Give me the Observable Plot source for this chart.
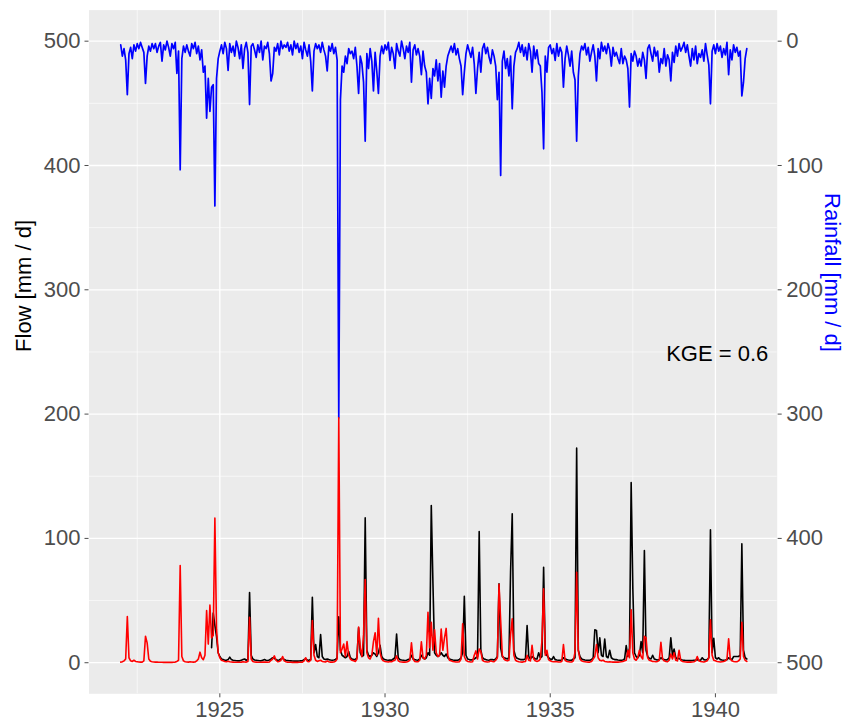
<!DOCTYPE html>
<html><head><meta charset="utf-8">
<script src="https://cdn.jsdelivr.net/npm/d3@7"></script>
<script src="https://cdn.jsdelivr.net/npm/@observablehq/plot@0.6"></script>
<style>body{margin:0;background:#fff;}</style>
</head><body><div id="chart"></div>
<script>
// Time axis: values are sampled 20 times per year starting at startYear
const startYear = 1922;
const stepsPerYear = 20;
const observedFirstYear = 1924;

// Rainfall [mm/d], one row per year 1922..1940
const rainfall = [
  [3,12,6,15,43,10,5,14,3,8,2,6,1,5,9,34,12,4,8,2],
  [6,2,9,4,1,16,3,7,0,5,12,2,6,1,26,8,103.5,14,4,9],
  [3,8,12,2,6,1,10,4,15,7,25,20,62,30,56.5,37,35,132.5,30,14],
  [8,3,10,1,6,23.6,2,9,4,12,0,5,14,3,22,6,1,9,51,4],
  [2,7,13,3,9,0,15,4,6,1,10,32,26,5,8,2,11,0,6,3],
  [5,1,8,3,11,0,6,2,9,4,14,1,7,12,3,16,40,8,2,6],
  [3,9,1,7,12,24,4,8,2,10,5,15,303,47,20,25,12,18,6,10],
  [8,14,5,20,42,12,18,33,80.4,10,22,6,16,40,9,24,42,12,4,10],
  [3,7,1,15.5,5,10,22,2,8,12,0,6,14,4,9,1,33,7,3,11],
  [6,12,27,8,20,25,50.4,30,46,22,28,15,32,18,45,24,37,20,12,8],
  [4,9,2,11,6,14,20,43,25,10,3,8,13,5,18,42,22,9,25,6],
  [2,10,5,13,18,7,12,20,47,25,108,16,8,22,14,28,12,54.4,20,9],
  [6,1,9,3,12,5,15,2,8,25,4,14,7,18,20,41,86.6,12,25,5],
  [3,10,6,15.5,2,12,5,9,37,14,4,11,20,8,25,31,80.4,28,10,4],
  [7,2,11,5,16,9,3,12,32,6,14,1,8,4,10,2,7,20,5,12],
  [9,14,18,6,18,12,15,22,53,10,16,8,12,20,14,20,9,15,30,6],
  [3,10,16,5,12,8,25,14,18,6,20,11,15,32,9,17,4,12,2,8],
  [5,1,9,3,12,20,6,15,4,18,10,13,7,16,2,11,19,50.4,8,3],
  [10,2,8,4,13,6,11,1,27,7,15,3,9,5,12,8,44,33,14,6]
];

// Observed flow [mm/d], one row per year 1924..1940 (null = no record)
const flowObserved = [
  [null,null,null,null,null,null,null,null,null,null,null,null,null,null,null,12,40,30,21,8],
  [5,3,2.5,2,2,2.5,4.5,2.5,2,1.8,1.6,1.5,1.5,2,2.5,3,2,2.5,56.5,6],
  [3,2.2,2,1.8,1.6,1.5,2,2.5,2,1.8,2.2,3,4,3.5,2.5,2,2.2,3,3.5,2.5],
  [2,1.8,1.6,1.5,1.4,1.3,1.3,1.3,1.4,1.5,1.6,2.5,3,2.2,2,2.5,52.7,8,14.6,5],
  [4,22.7,5,3,2.5,3,2.5,2.2,2,2.2,2.5,4,37,10,6,5,4,5,9,4],
  [3,2.5,2.5,4,28,8,5,6,116.5,10,6,5,6,8,7,5,8,14,5,3],
  [2.5,2.2,2,2.2,2,3,4,23,4,2.5,2.2,2,1.8,2,2.5,3,6,3,2.5,2.2],
  [2,3,6,4,3,4,8,6,126.5,64,8,6,5,6,8,6,5,7,4,3],
  [2.5,2.2,2,2,2,2.5,4,8,53.5,6,3,2.5,2.2,2.5,3,4,5,105.5,10,4],
  [3,2.5,2.2,2,2.5,2.5,2.2,3,5,63.5,12,5,4,3.5,3,4,73.4,119.8,10,5],
  [3.5,3,2.5,2.5,2.5,3,30,5,3,5,4,3,3,8,4,5,76.8,8,6,4],
  [3,2.5,5,2.5,2.2,2,2,2.2,4,3,2.5,2.2,2,2,3,4,172.6,10,5,3],
  [2.5,2.2,2,2,2,2.5,4,26.5,26,8,20,6,5,19,5,4,10,4,3,2.5],
  [2.5,2.2,2,2,2.2,3,13.8,5,12,145,60,8,5,4,6,17,8,90.3,10,5],
  [3.5,3,6,3,2.5,2.2,2.5,4,3,2.5,2.2,2.5,4,20,6,11,4,3,3.5,2.5],
  [2.2,2,1.8,1.8,1.7,1.7,1.8,2,2.2,2.5,2.2,2,4,2.5,2.2,2.5,4,107,8,19.6],
  [4,3,4,2.5,2.2,2,2.2,2.5,4,3,2.5,5,5,5,5,6,95.6,10,4,3]
];

// Simulated flow [mm/d], one row per year 1922..1940
const flowSimulated = [
  [0.5,0.8,1.5,3,37.2,4,1.5,1,2,1,0.8,0.6,0.5,0.5,1.5,21.3,16,3,1.2,0.8],
  [0.6,0.5,0.5,0.4,0.4,0.4,0.3,0.3,0.3,0.3,0.3,0.3,0.4,0.5,1,2,78.2,5,1.5,0.8],
  [0.6,0.5,0.8,0.6,0.5,0.6,1.5,3,8.5,4,2.5,6,42,15,46.3,20,22,116.3,27,8],
  [4,2,1.5,1,0.8,1.2,0.8,0.6,0.5,0.4,0.4,0.4,0.4,0.5,0.8,0.6,0.5,1,36.6,3],
  [1,0.6,0.5,0.4,0.4,0.4,0.5,0.6,0.5,0.4,0.6,2,3,5.5,2,0.8,1,2,5,1.5],
  [0.8,0.5,0.4,0.4,0.3,0.3,0.3,0.3,0.4,0.4,0.5,1.5,4,1,0.8,2,34,6,2,1],
  [1.5,2,1,0.8,0.6,1.5,0.8,0.5,0.5,0.6,1.2,3,197,8,11,15,5,17,6,3],
  [2,1.5,1,3,28.6,12,5,22.6,67,8,4,3,6,17,24,6,35.8,8,3,1.5],
  [1,0.8,0.6,1,0.8,1.5,2,5.5,1.5,0.8,0.6,0.5,0.5,0.6,1,2,16,3,1,0.8],
  [0.8,2,16.8,4,3,6,40.6,12,32.6,10,26.5,8,5,6,27,10,20,27.6,6,2],
  [1.5,1,0.8,0.6,0.6,0.8,3,31.3,5,2,1,0.8,0.6,0.8,6,9.5,3,11,9,2],
  [1,0.8,0.6,0.8,1.5,1,0.8,2,4,63,34,6,3,2,1.5,2,22.6,35.3,6,2],
  [1.2,0.8,0.6,0.5,0.8,1,6,2,1.5,14,3,1.5,1,1.5,3,17.8,59.4,6,10,2.5],
  [1.5,1,0.8,1,0.8,0.6,0.6,1,14.6,2,1,0.8,0.6,0.6,1.5,8.5,72.8,10,3,1.5],
  [1,0.8,0.6,0.5,0.5,1,3,5,14.6,4,2,1.5,2,1,0.8,0.6,0.8,0.6,0.5,0.5],
  [0.5,0.5,0.6,0.8,1,1.5,2,10,4,42.5,8,3,2,4,10,5,3,21.3,20,4],
  [2,1.5,1,1,0.8,1,2,16.5,3,1.5,1,0.8,2,7,3,8,2,1.5,10,2],
  [1,0.8,0.6,0.5,0.5,0.5,0.6,0.8,1.5,5,1.5,1,0.8,0.6,1,1.5,4,34.5,6,2],
  [1.5,1,0.8,0.6,0.8,1,1.5,3,19.2,3,1.5,1,0.8,0.8,1.5,3,32.6,5,2,1]
];

const xTicks = [1925, 1930, 1935, 1940];
const xMinorTicks = [1922.5, 1927.5, 1932.5, 1937.5];
const flowTicks = [0, 100, 200, 300, 400, 500];
const flowMinorTicks = [50, 150, 250, 350, 450];
const rainAxisMax = 500;
const kgeLabel = ["KGE = 0.6"];
const flowTitle = ["Flow [mm / d]"];
const rainTitle = ["Rainfall [mm / d]"];

function toSeries(rows, firstYear) {
  return rows.flat()
    .map((v, i) => ({t: firstYear + i / stepsPerYear, v}))
    .filter(d => d.v != null);
}
const rainSeries = toSeries(rainfall, startYear);
const obsSeries = toSeries(flowObserved, observedFirstYear);
const simSeries = toSeries(flowSimulated, startYear);

const font = "'Liberation Sans', Arial, Helvetica, sans-serif";
const axisColor = "#4D4D4D";

const chart = Plot.plot({
  width: 850,
  height: 722,
  marginLeft: 88.5,
  marginRight: 73.3,
  marginTop: 9.6,
  marginBottom: 28.7,
  style: {fontFamily: font, background: "white", overflow: "visible"},
  x: {domain: [1921.04, 1941.87], label: null},
  y: {domain: [-25, 525], label: null},
  marks: [
    Plot.frame({fill: "#EBEBEB", stroke: null}),
    Plot.gridX(xMinorTicks, {stroke: "white", strokeOpacity: 1, strokeWidth: 0.6}),
    Plot.gridY(flowMinorTicks, {stroke: "white", strokeOpacity: 1, strokeWidth: 0.6}),
    Plot.gridX(xTicks, {stroke: "white", strokeOpacity: 1, strokeWidth: 1.3}),
    Plot.gridY(flowTicks, {stroke: "white", strokeOpacity: 1, strokeWidth: 1.3}),
    Plot.line(rainSeries, {x: "t", y: d => rainAxisMax - d.v, stroke: "blue", strokeWidth: 1.7}),
    Plot.line(obsSeries, {x: "t", y: "v", stroke: "black", strokeWidth: 1.6}),
    Plot.line(simSeries, {x: "t", y: "v", stroke: "red", strokeWidth: 1.6}),
    Plot.axisX(xTicks, {tickSize: 4, tickPadding: 3.5, fontSize: 22, color: axisColor, label: null, tickFormat: d => String(d)}),
    Plot.axisY(flowTicks, {anchor: "left", tickSize: 4, tickPadding: 4.5, fontSize: 22, color: axisColor, label: null, tickFormat: d => String(d)}),
    Plot.axisY(flowTicks, {anchor: "right", tickSize: 4, tickPadding: 5, fontSize: 22, color: axisColor, label: null, tickFormat: d => String(rainAxisMax - d)}),
    Plot.text(kgeLabel, {x: 1941.6, y: 248.6, text: d => d, textAnchor: "end", fontSize: 22, fill: "black"}),
    Plot.text(flowTitle, {frameAnchor: "left", dx: -65.5, rotate: -90, text: d => d, fontSize: 22, fill: "black"}),
    Plot.text(rainTitle, {frameAnchor: "right", dx: 55, rotate: 90, text: d => d, fontSize: 22, fill: "blue"})
  ]
});
document.getElementById("chart").appendChild(chart);
</script>
</body></html>
